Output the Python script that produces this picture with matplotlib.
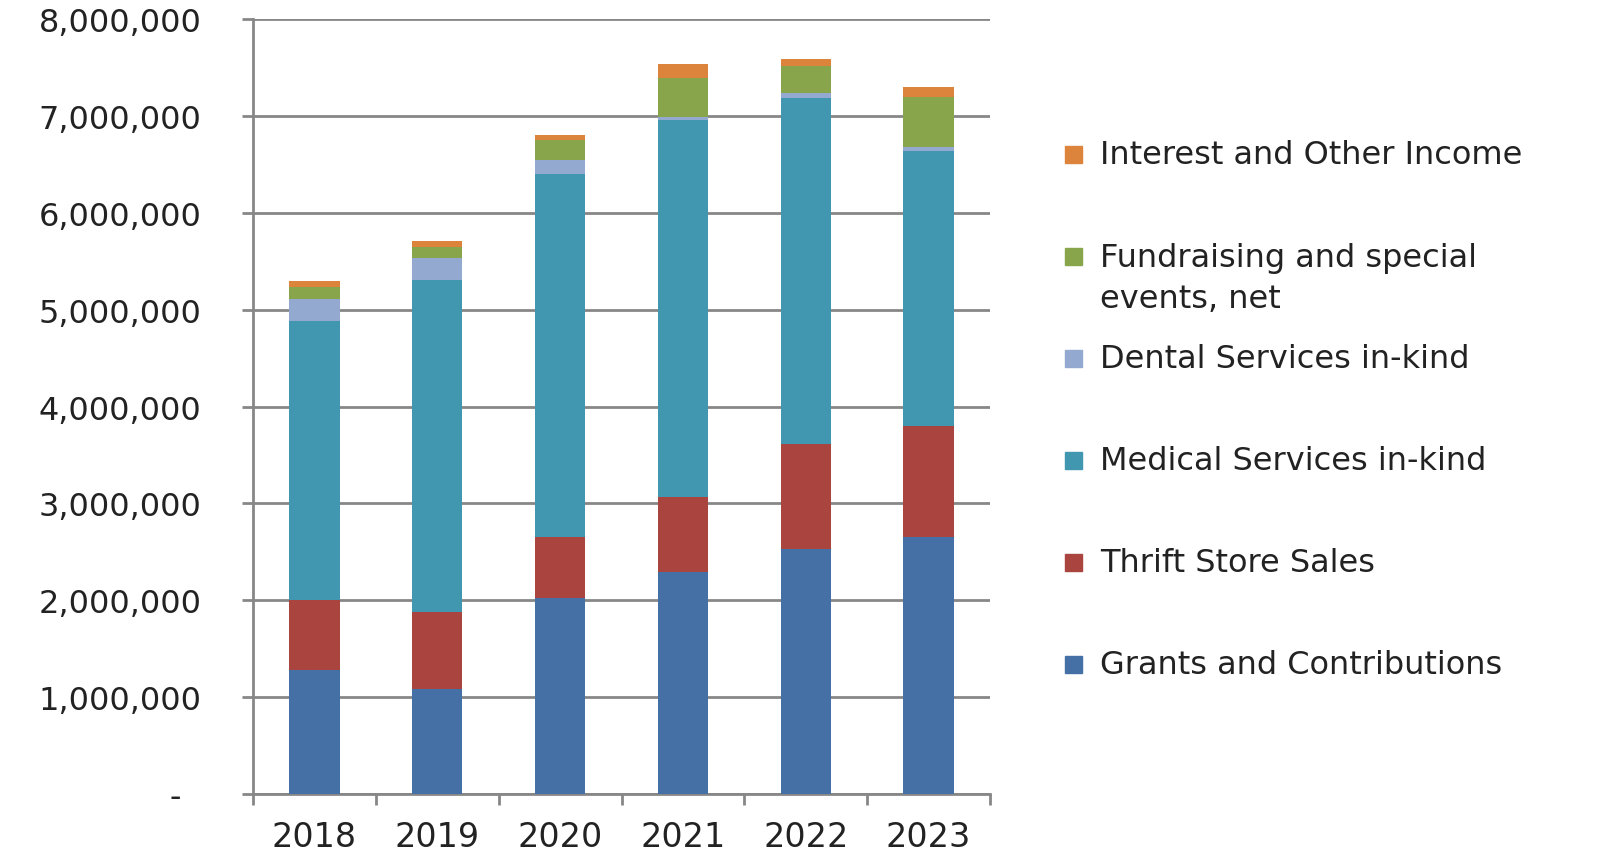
import numpy as np
import matplotlib
matplotlib.use('Agg')
import matplotlib.pyplot as plt
from matplotlib.patches import Rectangle
from matplotlib.ticker import FuncFormatter

years = ['2018', '2019', '2020', '2021', '2022', '2023']

# values, in dollars
grants      = [1281000, 1079000, 2024000, 2291000, 2534000, 2658000]
thrift      = [726000,  802000,  634000,  774000,  1080000, 1137000]
medical     = [2880000, 3420000, 3746000, 3890000, 3572000, 2839000]
dental      = [220000,  230000,  144000,  30000,   45000,   45000]
fundraising = [130000,  113000,  205000,  403000,  286000,  518000]
interest    = [58000,   68000,   48000,   148000,  69000,   103000]

series = [
	('Grants and Contributions', grants, '#4470A6'),
	('Thrift Store Sales', thrift, '#A9443F'),
	('Medical Services in-kind', medical, '#4097AF'),
	('Dental Services in-kind', dental, '#93A9D0'),
	('Fundraising and special\nevents, net', fundraising, '#88A54C'),
	('Interest and Other Income', interest, '#DC843C'),
]

W, H = 1598, 853
plt.rcParams['font.family'] = ['DejaVu Sans']
fig = plt.figure(figsize=(W / 100, H / 100), dpi=100)
ax = fig.add_axes([253 / W, 1 - 795 / H, 737 / W, 775 / H])

x = np.arange(len(years))
bottom = np.zeros(len(years))
for name, vals, col in series:
	ax.bar(x, vals, 0.41, bottom=bottom, color=col, zorder=3)
	bottom += np.array(vals)

grid_col = '#878787'
ax.set_xlim(-0.5, len(years) - 0.5)
ax.set_ylim(0, 8000000)
ax.set_yticks(np.arange(0, 8000001, 1000000))
ax.yaxis.set_major_formatter(FuncFormatter(lambda v, p: '-  ' if v == 0 else '{:,.0f}'.format(v)))
ax.grid(axis='y', color=grid_col, linewidth=2, zorder=0)

# boundary ticks on the x axis, labels in the middle of each category
ax.set_xticks(np.arange(-0.5, len(years)), labels=[''] * (len(years) + 1))
ax.set_xticks(x, labels=years, minor=True)
ax.tick_params(axis='x', which='minor', length=0, pad=19, labelsize=24, colors='#222222')
ax.tick_params(axis='x', which='major', length=8, width=2, color=grid_col, direction='out')
ax.tick_params(axis='y', length=8, width=2, color=grid_col, pad=29, labelsize=23, labelcolor='#222222')

for s in ['top', 'right']:
	ax.spines[s].set_visible(False)
for s in ['left', 'bottom']:
	ax.spines[s].set_color(grid_col)
	ax.spines[s].set_linewidth(2)

# legend, Excel style: evenly spaced slots, top entry is the last series
line_gap = 42
for i, (name, vals, col) in enumerate(series[::-1]):
	yc = 156 + 102 * i
	fig.add_artist(Rectangle((1065 / W, 1 - (yc + 8) / H), 17 / W, 17 / H,
		transform=fig.transFigure, color=col))
	for j, line in enumerate(name.split('\n')):
		fig.text(1100 / W, 1 - (yc + j * line_gap) / H, line, fontsize=23,
			va='center', ha='left', color='#222222')

plt.savefig('out.png', dpi=100)
plt.close()
